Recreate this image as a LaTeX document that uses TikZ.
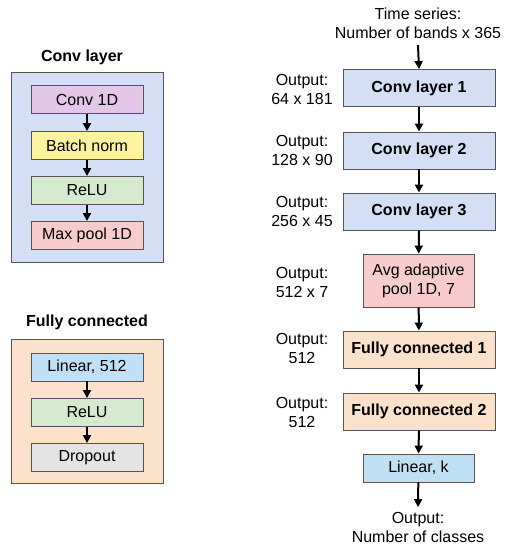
\documentclass[tikz,border=0pt]{standalone}
\usepackage{fontspec}
\setmainfont{Liberation Sans}
\usetikzlibrary{arrows.meta, positioning}
\definecolor{zline}{RGB}{85, 85, 85}
\definecolor{zconv}{RGB}{212, 223, 245}
\definecolor{zpurple}{RGB}{228, 198, 233}
\definecolor{zyellow}{RGB}{253, 242, 158}
\definecolor{zgreen}{RGB}{214, 234, 208}
\definecolor{zred}{RGB}{248, 204, 205}
\definecolor{zorange}{RGB}{252, 225, 203}
\definecolor{zlinear}{RGB}{192, 225, 245}
\definecolor{zgrey}{RGB}{228, 228, 228}

\begin{document}
\begin{tikzpicture}[x=1pt, y=-1pt,
  every node/.style={font=\fontsize{16}{19}\selectfont},
  panel/.style={rectangle, draw=zline, line width=0.9pt,
                minimum width=152pt, inner sep=0pt},
  inbox/.style={rectangle, draw=zline, line width=0.9pt,
                minimum width=112pt, minimum height=28pt, inner sep=0pt},
  bigbox/.style={rectangle, draw=zline, line width=0.9pt,
                 minimum width=152pt, minimum height=37pt, inner sep=0pt,
                 font=\fontsize{16}{19}\selectfont\bfseries},
  midbox/.style={rectangle, draw=zline, line width=0.9pt,
                 minimum width=111pt, inner sep=0pt, align=center},
  title/.style={font=\fontsize{16}{19}\selectfont\bfseries},
  outlbl/.style={align=center, inner sep=0pt},
  arr/.style={-{Triangle[length=8pt, width=8pt]}, line width=2pt, black}
]
\useasboundingbox (0,0) rectangle (509,550);

% left: conv layer block
\node[title] (tconv) at (82,57) {Conv layer};
\node[panel, fill=zconv, minimum height=190pt] (pconv) at (87,167) {};
\node[inbox, fill=zpurple] (cv)  at (87,99.5)  {Conv 1D};
\node[inbox, fill=zyellow] (bn)  at (87,145.5) {Batch norm};
\node[inbox, fill=zgreen]  (rl)  at (87,190.5) {ReLU};
\node[inbox, fill=zred]    (mp)  at (87,235.5) {Max pool 1D};
\draw[arr] (cv) -- (bn);
\draw[arr] (bn) -- (rl);
\draw[arr] (rl) -- (mp);

% left: fully connected block
\node[title] (tfc) at (87,322) {Fully connected};
\node[panel, fill=zorange, minimum height=144pt] (pfc) at (87,411) {};
\node[inbox, fill=zlinear] (ln)  at (87,367)   {Linear, 512};
\node[inbox, fill=zgreen]  (rl2) at (87,412.5) {ReLU};
\node[inbox, fill=zgrey]   (dp)  at (87,457.5) {Dropout};
\draw[arr] (ln) -- (rl2);
\draw[arr] (rl2) -- (dp);

% right: network
\node[outlbl, align=center] (in) at (418,23.5) {Time series:\\Number of bands x 365};
\node[bigbox, fill=zconv]   (c1)  at (419,88)    {Conv layer 1};
\node[bigbox, fill=zconv]   (c2)  at (419,150.5) {Conv layer 2};
\node[bigbox, fill=zconv]   (c3)  at (419,211.5) {Conv layer 3};
\node[midbox, fill=zred, minimum height=53pt] (ap) at (418.5,280.5) {Avg adaptive\\pool 1D, 7};
\node[bigbox, fill=zorange] (fc1) at (419,349.5) {Fully connected 1};
\node[bigbox, fill=zorange] (fc2) at (419,411.5) {Fully connected 2};
\node[midbox, fill=zlinear, minimum height=28pt] (lk) at (418.5,468) {Linear, k};
\node[outlbl] (out) at (418,527.5) {Output:\\Number of classes};

\node[outlbl] (o1) at (302,89)    {Output:\\64 x 181};
\node[outlbl] (o2) at (302,150)   {Output:\\128 x 90};
\node[outlbl] (o3) at (302,211)   {Output:\\256 x 45};
\node[outlbl] (o4) at (302,282)   {Output:\\512 x 7};
\node[outlbl] (o5) at (302,348.5) {Output:\\512};
\node[outlbl] (o6) at (302,412.5) {Output:\\512};

\coordinate (ina) at ([yshift=-6pt]in.south);
\coordinate (outa) at ([yshift=5pt]out.north);
\draw[arr] (ina) -- (c1.north);
\draw[arr] (c1) -- (c2);
\draw[arr] (c2) -- (c3);
\draw[arr] (c3) -- (ap);
\draw[arr] (ap) -- (fc1);
\draw[arr] (fc1) -- (fc2);
\draw[arr] (fc2) -- (lk);
\draw[arr] (lk) -- (outa);
\end{tikzpicture}
\end{document}
